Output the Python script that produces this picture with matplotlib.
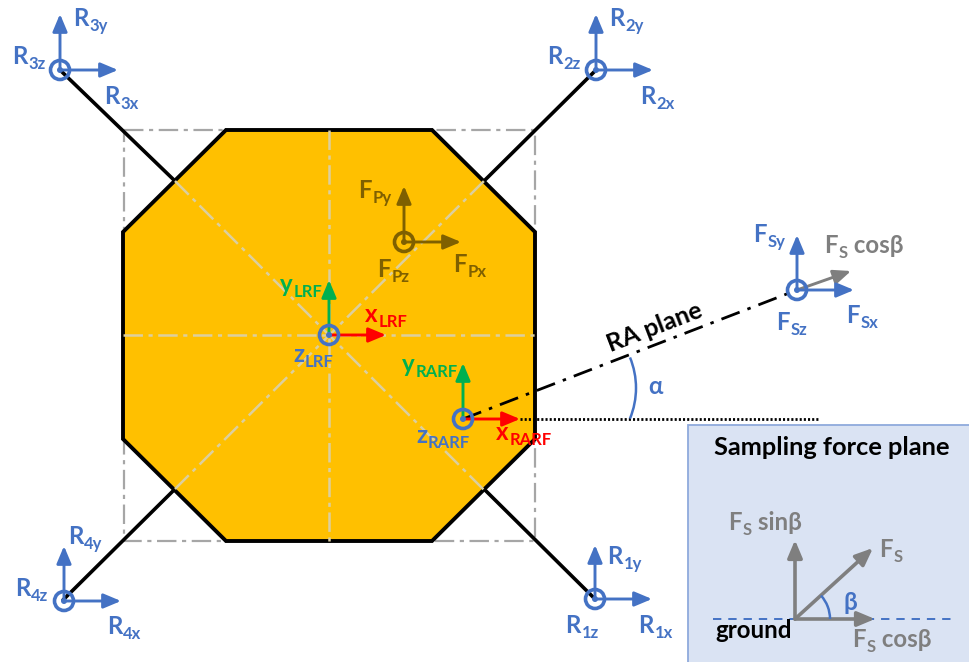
#!/usr/bin/env python3
# -*- coding: utf-8 -*-

import matplotlib
matplotlib.use("Agg")
import matplotlib.pyplot as plt
from matplotlib.patches import Polygon, Rectangle, Circle, Arc

plt.rcParams['font.family'] = ['Lato', 'Open Sans', 'DejaVu Sans']
plt.rcParams['lines.scale_dashes'] = False

BLUE = '#4472c4'
RED = '#ff0000'
GREEN = '#00b050'
GOLD = '#ffc000'
BROWN = '#7f6000'
GRAY = '#7f7f7f'

# all coordinates are picture pixels
octagon = [(226, 130), (432, 130), (535, 232), (535, 439),
           (432, 541), (226, 541), (123, 439), (123, 232)]
square = [(124, 130), (535, 130), (535, 541), (124, 541), (124, 130)]
struts = [((60, 70), (175, 181)), ((596, 70), (484, 181)),
          ((63, 600), (175, 489)), ((595, 599), (484, 489))]
centre_lines = [((329, 130), (329, 541)), ((123, 335), (535, 335)),
                ((175, 181), (484, 490)), ((175, 489), (484, 181))]

# origin, tip of y arrow, tip of x arrow, colour of y arrow, colour of x arrow, ring colour
frames = [
    ((60, 70), (60, 14), (118, 70), BLUE, BLUE, BLUE),
    ((596, 70), (596, 14), (653, 70), BLUE, BLUE, BLUE),
    ((64, 601), (64, 546), (121, 601), BLUE, BLUE, BLUE),
    ((595, 599), (595, 545), (652, 599), BLUE, BLUE, BLUE),
    ((404, 242), (404, 186), (461, 242), BROWN, BROWN, BROWN),
    ((329, 335), (329, 280), (386, 335), GREEN, RED, BLUE),
    ((463, 419), (463, 363), (520, 419), GREEN, RED, BLUE),
    ((797, 290), (797, 235), (854, 290), BLUE, BLUE, BLUE),
]

# x, baseline, main text, subscript, tail, colour
labels = [
    (73, 26, 'R', '3y', '', BLUE), (12, 64, 'R', '3z', '', BLUE), (104, 104, 'R', '3x', '', BLUE),
    (609, 26, 'R', '2y', '', BLUE), (547, 64, 'R', '2z', '', BLUE), (640, 104, 'R', '2x', '', BLUE),
    (68, 544, 'R', '4y', '', BLUE), (15, 596, 'R', '4z', '', BLUE), (107, 634, 'R', '4x', '', BLUE),
    (607, 564, 'R', '1y', '', BLUE), (565, 633, 'R', '1z', '', BLUE), (638, 633, 'R', '1x', '', BLUE),
    (358, 198, 'F', 'Py', '', BROWN), (453, 272, 'F', 'Px', '', BROWN), (377, 277, 'F', 'Pz', '', BROWN),
    (280, 292, 'y', 'LRF', '', GREEN), (365, 322, 'x', 'LRF', '', RED), (293, 362, 'z', 'LRF', '', BLUE),
    (402, 372, 'y', 'RARF', '', GREEN), (496, 440, 'x', 'RARF', '', RED), (416, 443, 'z', 'RARF', '', BLUE),
    (753, 242, 'F', 'Sy', '', BLUE), (846, 323, 'F', 'Sx', '', BLUE), (776, 330, 'F', 'Sz', '', BLUE),
    (824, 253, 'F', 'S', ' cosβ', GRAY),
    (728, 530, 'F', 'S', ' sinβ', GRAY), (879, 557, 'F', 'S', '', GRAY), (852, 647, 'F', 'S', ' cosβ', GRAY),
    (648, 394, 'α', '', '', BLUE), (844, 610, 'β', '', '', BLUE),
    (715, 638, 'ground', '', '', 'black'),
]

fig = plt.figure(figsize=(9.7, 6.62), dpi=100)
ax = fig.add_axes([0, 0, 1, 1])
ax.set_xlim(0, 970)
ax.set_ylim(662, 0)
ax.axis('off')
renderer = fig.canvas.get_renderer()


def arrow(start, end, color, z=6, lw=2.1):
    ax.annotate('', xy=end, xytext=start, zorder=z,
                arrowprops=dict(arrowstyle='-|>,head_length=0.62,head_width=0.26', mutation_scale=17,
                                color=color, lw=lw, shrinkA=0, shrinkB=0))


def label(x, y, main, sub, tail, color):
    # text and subscript are separate objects, placed by the measured width
    size = 17.3
    t = ax.text(x, y, main, color=color, fontsize=size, fontweight='bold', va='baseline', zorder=9)
    x = x + t.get_window_extent(renderer).width + 1
    if sub:
        t = ax.text(x, y + 5, sub, color=color, fontsize=12, fontweight='bold',
                    va='baseline', zorder=9)
        x = x + t.get_window_extent(renderer).width
    if tail:
        ax.text(x, y, tail, color=color, fontsize=size, fontweight='bold', va='baseline', zorder=9)


# dash-dot square behind the plate
xs, ys = zip(*square)
ax.plot(xs, ys, color='#a6a6a6', lw=1.6, ls=(0, (14, 4, 3, 4)), zorder=1)

for a, b in struts:
    ax.plot([a[0], b[0]], [a[1], b[1]], color='black', lw=2.6, zorder=2, solid_capstyle='round')

ax.add_patch(Polygon(octagon, closed=True, facecolor=GOLD, edgecolor='black', lw=2.8, zorder=3))

for a, b in centre_lines:
    ax.plot([a[0], b[0]], [a[1], b[1]], color='#dccf9f', lw=1.8, ls=(0, (14, 4, 3, 4)), zorder=4)

# RA plane and the horizontal reference
ax.plot([463, 797], [419, 290], color='black', lw=2, ls=(0, (14, 6, 2.5, 6)), zorder=5)
ax.plot([520, 820], [419, 419], color='black', lw=2, ls=(0, (1.5, 1.5)), zorder=5)
ax.add_patch(Arc((555.5, 388), 161, 161, theta1=-22.3, theta2=22.3, color=BLUE, lw=1.8, zorder=5))
ax.text(655, 327, 'RA plane', rotation=21, rotation_mode='anchor', ha='center', va='center',
        fontsize=18, fontweight='bold', color='black', zorder=9)

# F_S cos(beta) leaves the sampling frame along the RA plane
arrow((797, 290), (851, 271), GRAY, z=6)

for origin, tip_y, tip_x, col_y, col_x, col_ring in frames:
    arrow(origin, tip_y, col_y, z=7)
    arrow(origin, tip_x, col_x, z=7)
    ax.add_patch(Circle(origin, 9.5, facecolor='none', edgecolor=col_ring, lw=2.6, zorder=8))
    ax.add_patch(Circle(origin, 3, facecolor=col_ring, edgecolor='none', zorder=8))

# sampling force plane inset
ax.add_patch(Rectangle((688, 425), 290, 245, facecolor='#dae3f3', edgecolor='#8faadc', lw=1.3, zorder=5))
ax.text(714, 455, 'Sampling force plane', fontsize=18.3, fontweight='bold', color='black',
        va='baseline', zorder=9)
ax.plot([713, 956], [619, 619], color=BLUE, lw=1.4, ls=(0, (6, 5)), zorder=6)
arrow((795, 619), (795, 540), GRAY, z=7, lw=2.6)
arrow((795, 619), (873, 548), GRAY, z=7, lw=2.6)
arrow((795, 619), (875, 619), GRAY, z=7, lw=2.6)
ax.add_patch(Arc((795, 619), 70, 70, theta1=-42, theta2=0, color=BLUE, lw=1.8, zorder=7))

for row in labels:
    label(*row)

fig.savefig('out.png', dpi=100)
